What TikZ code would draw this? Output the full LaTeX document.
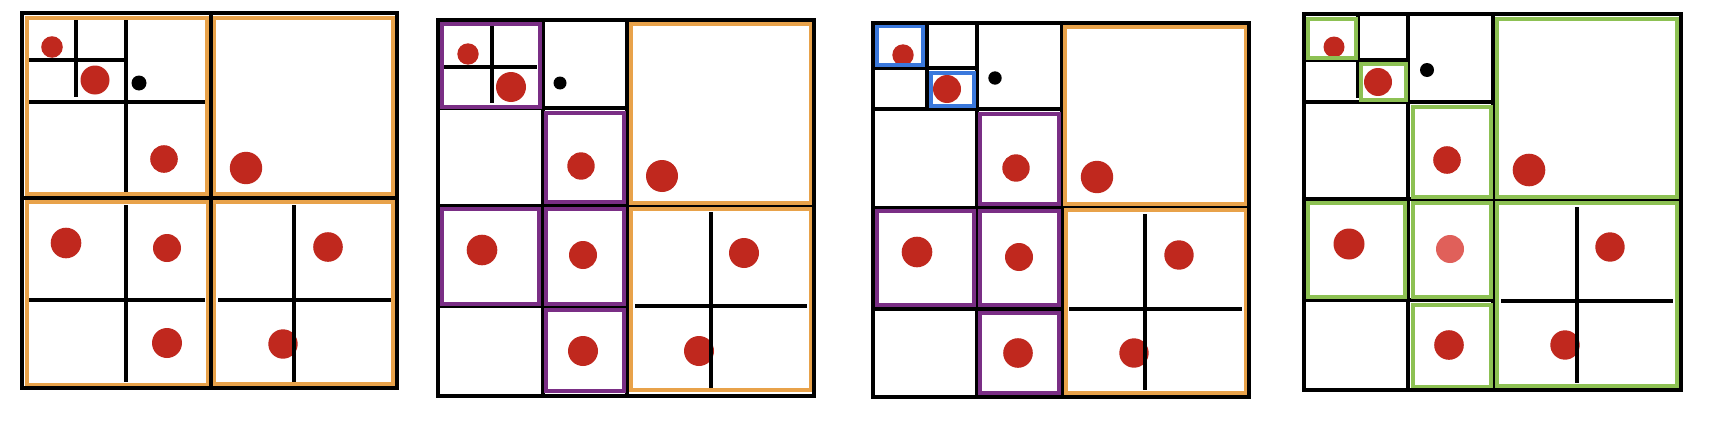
\documentclass[tikz,border=0pt]{standalone}
\usepackage{tikz}
\definecolor{dotred}{HTML}{C0281E}
\definecolor{dotpink}{HTML}{E0605A}
\definecolor{boxorange}{HTML}{E8A24A}
\definecolor{boxpurple}{HTML}{7A2E85}
\definecolor{boxblue}{HTML}{3A78DC}
\definecolor{boxgreen}{HTML}{8DC153}
\tikzset{
  outerline/.style={draw=black,line width=0.4mm},
  gridline/.style={draw=black,line width=0.35mm},
  orangebox/.style={draw=boxorange,line width=0.46mm},
  purplebox/.style={draw=boxpurple,line width=0.46mm},
  bluebox/.style={draw=boxblue,line width=0.48mm},
  greenbox/.style={draw=boxgreen,line width=0.46mm},
  reddot/.style={fill=dotred},
  pinkdot/.style={fill=dotpink},
  blackdot/.style={fill=black}
}
\begin{document}
\begin{tikzpicture}[x=0.1mm,y=-0.1mm]
\useasboundingbox (0,0) rectangle (1721,421);
\fill[white] (0,0) rectangle (1721,421);

% ================= Panel 1 =================
\fill[reddot] (52,47) circle (10.8);
\fill[reddot] (95,80) circle (14.5);
\fill[blackdot] (139,83) circle (7.5);
\fill[reddot] (164,159) circle (13.8);
\fill[reddot] (246,168) circle (16.2);
\fill[reddot] (66,243) circle (15.3);
\fill[reddot] (167,248) circle (14);
\fill[reddot] (167,343) circle (15);
\fill[reddot] (328,247) circle (14.8);
\fill[reddot] (283,344) circle (14.7);
\draw[gridline] (126,20) -- (126,193);
\draw[gridline] (29,102) -- (205,102);
\draw[gridline] (76,20) -- (76,97);
\draw[gridline] (29,60) -- (125,60);
\draw[gridline] (126,205) -- (126,382);
\draw[gridline] (29,300) -- (205,300);
\draw[gridline] (294,205) -- (294,382);
\draw[gridline] (218,300) -- (391,300);
\draw[orangebox] (27,18) rectangle (207,194);
\draw[orangebox] (214,18) rectangle (393,194);
\draw[orangebox] (27,202) rectangle (208,385);
\draw[orangebox] (214,202) rectangle (393,384);
\draw[outerline] (211,13) -- (211,388);
\draw[outerline] (22,198) -- (399,198);
\draw[outerline] (22,13) rectangle (397,388);

% ================= Panel 2 =================
\fill[reddot] (468,54) circle (10.7);
\fill[reddot] (511,87) circle (15);
\fill[blackdot] (560,83) circle (6.5);
\fill[reddot] (581,166) circle (13.7);
\fill[reddot] (662,176) circle (16);
\fill[reddot] (482,250) circle (15.3);
\fill[reddot] (583,255) circle (14);
\fill[reddot] (583,351) circle (15);
\fill[reddot] (744,253) circle (15);
\fill[reddot] (699,351) circle (15);
\draw[gridline] (492,24) -- (492,103);
\draw[gridline] (444,67) -- (537,67);
\draw[gridline] (711,212) -- (711,388);
\draw[gridline] (635,306) -- (807,306);
\draw[outerline] (627,20) -- (627,396);
\draw[outerline] (438,206) -- (816,206);
\draw[outerline] (543,20) -- (543,396);
\draw[outerline] (438,108) -- (627,108);
\draw[outerline] (438,306) -- (627,306);
\draw[purplebox] (442,24) rectangle (540,107);
\draw[purplebox] (546,113) rectangle (624,202);
\draw[purplebox] (442,209) rectangle (539,304);
\draw[purplebox] (546,209) rectangle (624,304);
\draw[purplebox] (546,310) rectangle (624,391);
\draw[orangebox] (631,24) rectangle (811,203);
\draw[orangebox] (631,209) rectangle (811,390);
\draw[outerline] (438,20) rectangle (814,396);

% ================= Panel 3 =================
\fill[reddot] (903,55) circle (10.7);
\fill[reddot] (947,89) circle (14);
\fill[blackdot] (995,78) circle (6.7);
\fill[reddot] (1016,168) circle (13.7);
\fill[reddot] (1097,177) circle (16.2);
\fill[reddot] (917,252) circle (15.3);
\fill[reddot] (1019,257) circle (14);
\fill[reddot] (1018,353) circle (14.8);
\fill[reddot] (1179,255) circle (14.7);
\fill[reddot] (1134,353) circle (14.7);
\draw[gridline] (1145,214) -- (1145,390);
\draw[gridline] (1069,309) -- (1242,309);
\draw[outerline] (1062,23) -- (1062,397);
\draw[outerline] (873,208) -- (1250,208);
\draw[outerline] (977,23) -- (977,397);
\draw[outerline] (873,109) -- (1062,109);
\draw[outerline] (873,309) -- (1063,309);
\draw[outerline] (927,23) -- (927,107);
\draw[outerline] (873,68) -- (977,68);
\draw[bluebox] (877,26) rectangle (923,65);
\draw[bluebox] (931,73) rectangle (974,106);
\draw[purplebox] (980,114) rectangle (1059,204);
\draw[purplebox] (877,211) rectangle (974,305);
\draw[purplebox] (980,211) rectangle (1059,305);
\draw[purplebox] (980,313) rectangle (1059,393);
\draw[orangebox] (1065,27) rectangle (1246,204);
\draw[orangebox] (1066,210) rectangle (1246,393);
\draw[outerline] (873,23) rectangle (1249,397);

% ================= Panel 4 =================
\fill[reddot] (1334,47) circle (10.5);
\fill[reddot] (1378,82) circle (14);
\fill[blackdot] (1427,70) circle (7);
\fill[reddot] (1447,160) circle (13.8);
\fill[reddot] (1529,170) circle (16.3);
\fill[reddot] (1349,244) circle (15.5);
\fill[pinkdot] (1450,249) circle (14);
\fill[reddot] (1449,345) circle (14.8);
\fill[reddot] (1610,247) circle (14.7);
\fill[reddot] (1565,345) circle (14.7);
\draw[gridline] (1577,207) -- (1577,383);
\draw[gridline] (1501,301) -- (1673,301);
\draw[outerline] (1493,14) -- (1493,390);
\draw[outerline] (1304,199) -- (1682,199);
\draw[outerline] (1408,14) -- (1408,390);
\draw[outerline] (1304,102) -- (1493,102);
\draw[outerline] (1304,300) -- (1497,300);
\draw[outerline] (1358,14) -- (1358,98);
\draw[outerline] (1304,60) -- (1407,60);
\draw[greenbox] (1308,19) rectangle (1356,58);
\draw[greenbox] (1361,64) rectangle (1406,100);
\draw[greenbox] (1413,107) rectangle (1491,197);
\draw[greenbox] (1308,203) rectangle (1405,297);
\draw[greenbox] (1413,203) rectangle (1491,297);
\draw[greenbox] (1413,305) rectangle (1491,387);
\draw[greenbox] (1497,19) rectangle (1677,197);
\draw[greenbox] (1497,203) rectangle (1677,386);
\draw[outerline] (1304,14) rectangle (1681,390);
\end{tikzpicture}
\end{document}
